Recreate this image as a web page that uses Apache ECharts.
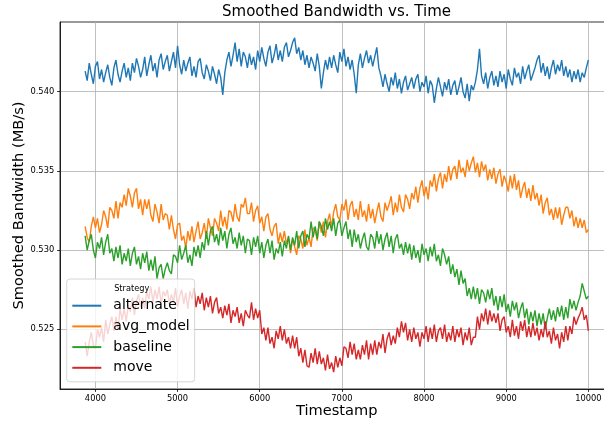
<!DOCTYPE html>
<html>
<head>
<meta charset="utf-8">
<script src="https://cdn.jsdelivr.net/npm/echarts@6/dist/echarts.min.js"></script>
<style>
  html, body { margin: 0; padding: 0; background: #ffffff; }
  #chart { width: 604px; height: 423px; }
</style>
</head>
<body>
<div id="chart"></div>
<script>
// Smoothed bandwidth traces, one value every 25 time units starting at tStart
const tStart = 3875;
const tStep = 25;

const alternate = [
  .5413,.5407,.5418,.5411,.5405,.5416,.5419,.5408,.5414,.5406,.5412,.5417,.5409,.5404,.5415,.5420,.5411,.5406,.5413,.5418,
  .5409,.5415,.5407,.5418,.5412,.5421,.5416,.5409,.5414,.5422,.5410,.5417,.5423,.5413,.5418,.5409,.5420,.5424,.5414,.5419,
  .5423,.5413,.5419,.5425,.5415,.5429,.5417,.5411,.5420,.5413,.5418,.5422,.5410,.5416,.5409,.5419,.5421,.5412,.5408,.5417,
  .5413,.5407,.5416,.5411,.5405,.5414,.5409,.5398,.5412,.5420,.5425,.5416,.5423,.5431,.5419,.5427,.5416,.5425,.5422,.5415,
  .5424,.5417,.5422,.5414,.5426,.5419,.5428,.5421,.5416,.5425,.5429,.5418,.5423,.5430,.5420,.5426,.5419,.5428,.5431,.5422,
  .5426,.5431,.5434,.5424,.5428,.5420,.5426,.5417,.5423,.5415,.5422,.5418,.5413,.5424,.5416,.5402,.5412,.5420,.5414,.5422,
  .5415,.5423,.5417,.5412,.5425,.5419,.5427,.5416,.5422,.5414,.5420,.5411,.5399,.5417,.5424,.5415,.5421,.5426,.5418,.5423,
  .5416,.5422,.5428,.5415,.5410,.5403,.5411,.5405,.5400,.5409,.5404,.5412,.5402,.5408,.5399,.5406,.5410,.5401,.5405,.5409,
  .5402,.5408,.5411,.5400,.5406,.5403,.5410,.5399,.5407,.5404,.5393,.5402,.5409,.5403,.5397,.5406,.5401,.5408,.5398,.5404,
  .5407,.5398,.5403,.5409,.5400,.5396,.5405,.5394,.5404,.5401,.5406,.5414,.5427,.5410,.5405,.5412,.5402,.5409,.5413,.5404,
  .5410,.5403,.5413,.5406,.5411,.5402,.5414,.5408,.5404,.5415,.5409,.5412,.5405,.5416,.5408,.5413,.5417,.5407,.5411,.5415,
  .5420,.5423,.5412,.5418,.5410,.5416,.5408,.5415,.5420,.5411,.5417,.5413,.5420,.5410,.5416,.5409,.5414,.5406,.5413,.5408,
  .5414,.5406,.5412,.5409,.5415,.5420
];

const avgModel = [
  .5315,.5308,.5305,.5315,.5321,.5314,.5320,.5311,.5316,.5325,.5321,.5314,.5327,.5325,.5320,.5331,.5320,.5330,.5327,.5335,
  .5328,.5339,.5334,.5327,.5336,.5339,.5326,.5332,.5322,.5332,.5326,.5332,.5322,.5318,.5329,.5324,.5317,.5329,.5319,.5323,
  .5322,.5313,.5322,.5313,.5307,.5316,.5317,.5306,.5309,.5301,.5312,.5306,.5315,.5305,.5312,.5318,.5307,.5311,.5317,.5307,
  .5320,.5314,.5309,.5320,.5317,.5312,.5325,.5315,.5321,.5313,.5325,.5324,.5318,.5329,.5321,.5318,.5329,.5327,.5333,.5323,
  .5323,.5330,.5318,.5325,.5328,.5317,.5321,.5312,.5321,.5323,.5313,.5309,.5315,.5317,.5304,.5311,.5305,.5312,.5304,.5308,
  .5298,.5307,.5302,.5297,.5309,.5307,.5301,.5313,.5303,.5308,.5302,.5314,.5313,.5306,.5318,.5311,.5318,.5308,.5318,.5323,
  .5314,.5324,.5329,.5321,.5319,.5329,.5325,.5332,.5319,.5328,.5331,.5321,.5326,.5319,.5331,.5321,.5325,.5318,.5329,.5320,
  .5326,.5317,.5324,.5330,.5321,.5318,.5330,.5325,.5329,.5334,.5322,.5330,.5324,.5335,.5327,.5324,.5335,.5332,.5326,.5336,
  .5332,.5340,.5330,.5339,.5344,.5334,.5340,.5332,.5344,.5340,.5348,.5337,.5345,.5349,.5339,.5348,.5343,.5353,.5344,.5351,
  .5353,.5345,.5357,.5349,.5352,.5346,.5357,.5350,.5355,.5359,.5349,.5355,.5346,.5356,.5350,.5354,.5344,.5351,.5345,.5352,
  .5342,.5348,.5351,.5340,.5347,.5343,.5337,.5347,.5339,.5348,.5338,.5344,.5333,.5339,.5343,.5333,.5339,.5331,.5341,.5332,
  .5336,.5328,.5335,.5323,.5330,.5333,.5322,.5326,.5319,.5327,.5320,.5327,.5316,.5322,.5327,.5327,.5320,.5325,.5315,.5321,
  .5314,.5320,.5314,.5319,.5311,.5313
];

const baseline = [
  .5309,.5300,.5306,.5310,.5300,.5295,.5305,.5301,.5308,.5297,.5305,.5310,.5298,.5301,.5293,.5302,.5295,.5303,.5291,.5298,
  .5293,.5301,.5290,.5298,.5302,.5291,.5296,.5288,.5298,.5292,.5299,.5287,.5294,.5287,.5296,.5282,.5289,.5291,.5282,.5288,
  .5292,.5287,.5285,.5297,.5296,.5292,.5303,.5294,.5298,.5303,.5292,.5297,.5290,.5302,.5296,.5303,.5295,.5305,.5300,.5312,
  .5303,.5312,.5315,.5305,.5310,.5303,.5314,.5306,.5312,.5301,.5310,.5314,.5304,.5308,.5301,.5311,.5303,.5309,.5298,.5307,
  .5306,.5297,.5308,.5302,.5309,.5298,.5305,.5295,.5303,.5307,.5298,.5306,.5294,.5301,.5298,.5305,.5296,.5306,.5301,.5309,
  .5300,.5308,.5303,.5312,.5301,.5309,.5312,.5302,.5310,.5307,.5318,.5308,.5315,.5307,.5318,.5315,.5309,.5320,.5313,.5318,
  .5312,.5320,.5309,.5317,.5319,.5309,.5314,.5318,.5307,.5313,.5302,.5313,.5305,.5310,.5301,.5307,.5311,.5302,.5300,.5310,
  .5308,.5301,.5312,.5304,.5310,.5300,.5307,.5311,.5302,.5309,.5298,.5307,.5310,.5301,.5304,.5297,.5305,.5298,.5304,.5294,
  .5303,.5295,.5300,.5292,.5304,.5297,.5301,.5293,.5302,.5296,.5304,.5293,.5297,.5290,.5301,.5297,.5291,.5296,.5285,.5291,
  .5283,.5288,.5278,.5287,.5279,.5282,.5271,.5276,.5269,.5277,.5269,.5276,.5266,.5275,.5273,.5267,.5275,.5269,.5276,.5265,
  .5271,.5262,.5271,.5264,.5272,.5261,.5266,.5258,.5268,.5262,.5267,.5257,.5263,.5267,.5257,.5263,.5253,.5261,.5255,.5262,
  .5252,.5260,.5253,.5260,.5250,.5257,.5263,.5256,.5262,.5255,.5264,.5258,.5265,.5256,.5264,.5257,.5269,.5263,.5268,.5262,
  .5267,.5271,.5279,.5274,.5269,.5271
];

const move = [
  .5242,.5233,.5242,.5248,.5240,.5238,.5250,.5245,.5251,.5242,.5256,.5247,.5253,.5258,.5249,.5258,.5250,.5263,.5256,.5263,
  .5255,.5265,.5261,.5270,.5259,.5268,.5272,.5264,.5270,.5263,.5274,.5269,.5277,.5267,.5275,.5269,.5277,.5266,.5274,.5271,
  .5275,.5266,.5272,.5267,.5276,.5264,.5271,.5275,.5266,.5273,.5263,.5274,.5269,.5276,.5264,.5271,.5266,.5273,.5262,.5270,
  .5264,.5271,.5260,.5267,.5270,.5260,.5264,.5257,.5265,.5259,.5266,.5254,.5262,.5258,.5264,.5254,.5260,.5252,.5262,.5259,
  .5257,.5267,.5256,.5263,.5257,.5262,.5247,.5251,.5243,.5251,.5241,.5245,.5238,.5249,.5244,.5252,.5243,.5250,.5241,.5245,
  .5238,.5246,.5238,.5245,.5233,.5238,.5229,.5237,.5227,.5226,.5235,.5229,.5238,.5228,.5236,.5228,.5232,.5224,.5234,.5225,
  .5229,.5223,.5233,.5226,.5232,.5227,.5239,.5238,.5232,.5242,.5234,.5241,.5231,.5237,.5231,.5240,.5234,.5243,.5231,.5241,
  .5234,.5243,.5234,.5242,.5238,.5247,.5235,.5244,.5248,.5240,.5246,.5241,.5251,.5245,.5255,.5248,.5254,.5243,.5250,.5242,
  .5251,.5244,.5248,.5239,.5248,.5244,.5252,.5242,.5251,.5244,.5253,.5242,.5249,.5251,.5244,.5253,.5242,.5248,.5243,.5252,
  .5242,.5250,.5245,.5251,.5240,.5248,.5243,.5251,.5240,.5245,.5245,.5258,.5250,.5260,.5255,.5263,.5253,.5262,.5255,.5260,
  .5254,.5260,.5249,.5256,.5258,.5248,.5252,.5245,.5256,.5246,.5252,.5244,.5255,.5249,.5256,.5245,.5252,.5245,.5254,.5246,
  .5251,.5243,.5250,.5245,.5255,.5245,.5249,.5241,.5251,.5243,.5247,.5238,.5248,.5242,.5252,.5243,.5252,.5247,.5258,.5253,
  .5257,.5260,.5264,.5256,.5259,.5249
];

const seriesNames = ['alternate', 'avg_model', 'baseline', 'move'];
const seriesValues = [alternate, avgModel, baseline, move];
const seriesColors = ['#1f77b4', '#ff7f0e', '#2ca02c', '#d62728'];

const xTicks = [4000, 5000, 6000, 7000, 8000, 9000, 10000];
const yTicks = [0.525, 0.530, 0.535, 0.540];

const FONT = 'DejaVu Sans';

function toPairs(values) {
  return values.map((v, i) => [tStart + i * tStep, v]);
}

const chart = echarts.init(document.getElementById('chart'), null, { renderer: 'canvas' });

const axisLineStyle = { show: true, onZero: false, lineStyle: { color: '#000', width: 0.8 } };
const gridLineStyle = { show: true, lineStyle: { color: '#b0b0b0', width: 0.8 } };

chart.setOption({
  animation: false,
  backgroundColor: '#ffffff',
  grid: {
    left: 60, top: 22, width: 553.5, height: 367,
    show: true, borderColor: '#000', borderWidth: 0.8,
    backgroundColor: 'transparent',
    containLabel: false, outerBoundsMode: 'none'
  },
  xAxis: {
    type: 'value',
    min: 3569, max: 10306,
    name: 'Timestamp',
    nameLocation: 'middle',
    nameGap: 15,
    nameMoveOverlap: false,
    nameTextStyle: { fontSize: 14.6, color: '#000', fontFamily: FONT, verticalAlign: 'top' },
    axisLine: axisLineStyle,
    splitLine: gridLineStyle,
    axisTick: { show: true, length: 2.9, customValues: xTicks, lineStyle: { color: '#000', width: 0.8 } },
    axisLabel: {
      customValues: xTicks, color: '#000', fontSize: 8.3, fontFamily: FONT, margin: 5.8,
      formatter: v => String(v)
    }
  },
  yAxis: {
    type: 'value',
    min: 0.52123, max: 0.5444,
    name: 'Smoothed Bandwidth (MB/s)',
    nameLocation: 'middle',
    nameGap: 33,
    nameMoveOverlap: false,
    nameTextStyle: { fontSize: 14.6, color: '#000', fontFamily: FONT },
    axisLine: axisLineStyle,
    splitLine: gridLineStyle,
    axisTick: { show: true, length: 2.9, customValues: yTicks, lineStyle: { color: '#000', width: 0.8 } },
    axisLabel: {
      customValues: yTicks, color: '#000', fontSize: 8.3, fontFamily: FONT, margin: 5.8,
      formatter: v => v.toFixed(3)
    }
  },
  legend: {
    orient: 'vertical',
    left: 66.7, top: 279,
    padding: [19.7, 5, 7, 5.6],
    itemGap: 6.7,
    itemWidth: 29, itemHeight: 2,
    icon: 'rect',
    backgroundColor: 'rgba(255,255,255,0.8)',
    borderColor: '#cccccc', borderWidth: 0.8, borderRadius: 3,
    textStyle: { fontSize: 14, color: '#000', fontFamily: FONT, lineHeight: 14, padding: [0, 0, 0, 7] },
    data: seriesNames
  },
  graphic: [
    {
      type: 'text', x: 336.5, y: 12, z: 100,
      style: {
        text: 'Smoothed Bandwidth vs. Time', fill: '#000',
        font: '15px "DejaVu Sans"', textAlign: 'center', textVerticalAlign: 'middle'
      }
    },
    {
      type: 'text', x: 131.7, y: 288.5, z: 100,
      style: {
        text: 'Strategy', fill: '#000',
        font: '8.2px "DejaVu Sans"', textAlign: 'center', textVerticalAlign: 'middle'
      }
    }
  ],
  series: seriesNames.map((name, k) => ({
    name: name,
    type: 'line',
    data: toPairs(seriesValues[k]),
    showSymbol: false,
    symbol: 'none',
    color: seriesColors[k],
    lineStyle: { color: seriesColors[k], width: 1.4 },
    emphasis: { disabled: true }
  }))
});
</script>
</body>
</html>
